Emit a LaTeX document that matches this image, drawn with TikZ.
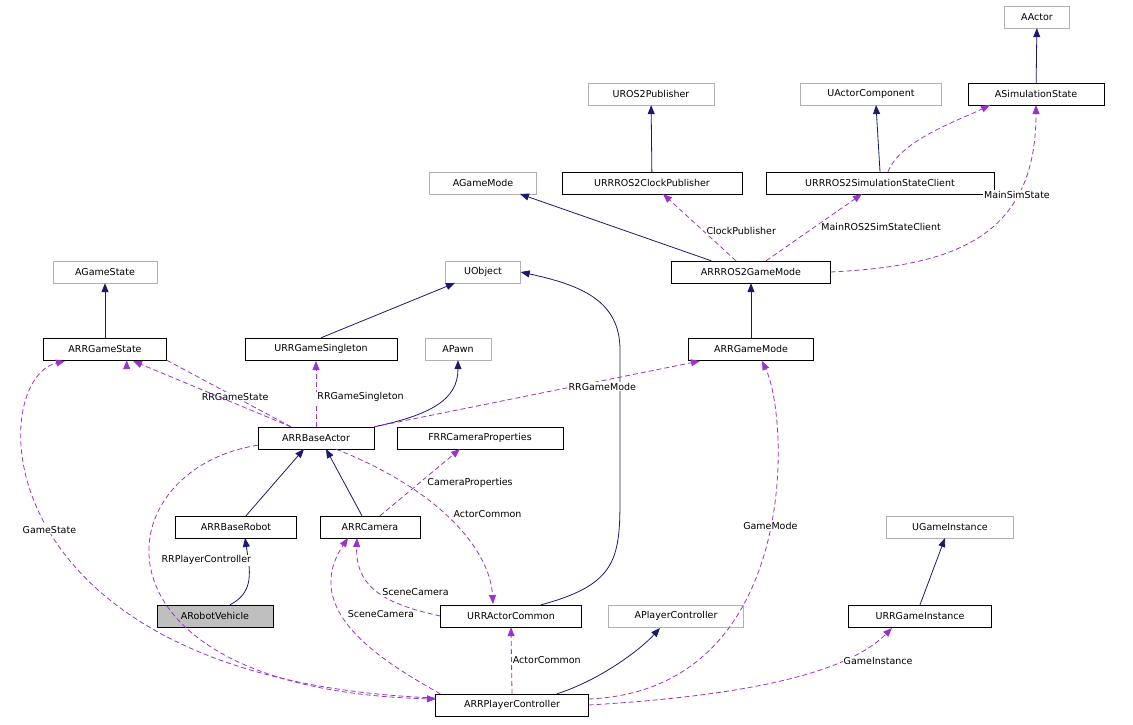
\documentclass[tikz,border=0pt]{standalone}
\usepackage{fontspec}
\setmainfont{DejaVu Sans}
\usetikzlibrary{arrows.meta}
\definecolor{inh}{HTML}{191970}
\definecolor{use}{HTML}{9A32CD}
\begin{document}
\begin{tikzpicture}[x=1pt,y=-1pt,font=\fontsize{9.5}{11}\selectfont,
  b/.style={draw=black,fill=white,minimum height=22pt,inner sep=2pt,anchor=center},
  g/.style={b,draw=gray!60},
  ih/.style={draw=inh,line width=0.8pt,-{Triangle[length=9pt,width=7pt]}},
  us/.style={draw=use,line width=0.8pt,dashed,dash pattern=on 5pt off 3pt,-{Triangle[length=9pt,width=7pt]}},
  lb/.style={fill=white,inner sep=1pt}]
\useasboundingbox (0,0) rectangle (1133,725);
\node[g,minimum width=65pt] (AActor) at (1037,17) {AActor};
\node[b,minimum width=136pt] (ASim) at (1036,94) {ASimulationState};
\node[g,minimum width=126pt] (UROS) at (651,94) {UROS2Publisher};
\node[g,minimum width=141pt] (UAC) at (871,94) {UActorComponent};
\node[b,minimum width=180pt] (Clock) at (652,183) {URRROS2ClockPublisher};
\node[b,minimum width=228pt] (SimCl) at (880,183) {URRROS2SimulationStateClient};
\node[g,minimum width=107pt] (AGM) at (483,183) {AGameMode};
\node[b,minimum width=159pt] (ROSGM) at (751,272) {ARRROS2GameMode};
\node[g,minimum width=104pt] (AGS) at (105,272) {AGameState};
\node[g,minimum width=75pt] (UObj) at (483,272) {UObject};
\node[b,minimum width=123pt] (GS) at (105,349) {ARRGameState};
\node[b,minimum width=152pt] (GSing) at (321,349) {URRGameSingleton};
\node[g,minimum width=66pt] (APawn) at (458,349) {APawn};
\node[b,minimum width=125pt] (GM) at (751,349) {ARRGameMode};
\node[b,minimum width=116pt] (BA) at (316,438) {ARRBaseActor};
\node[b,minimum width=166pt] (FCam) at (480,438) {FRRCameraProperties};
\node[b,minimum width=121pt] (BR) at (236,527) {ARRBaseRobot};
\node[b,minimum width=100pt] (Cam) at (370,527) {ARRCamera};
\node[g,minimum width=127pt] (UGI) at (950,527) {UGameInstance};
\node[b,minimum width=116pt,fill=gray!50] (RV) at (215,616) {ARobotVehicle};
\node[b,minimum width=141pt] (AC) at (511,616) {URRActorCommon};
\node[g,minimum width=135pt] (APC) at (676,616) {APlayerController};
\node[b,minimum width=143pt] (GI) at (920,616) {URRGameInstance};
\node[b,minimum width=153pt] (PC) at (512,705) {ARRPlayerController};
% inheritance
\draw[ih] (ASim) -- (AActor);
\draw[ih] (Clock) -- (UROS);
\draw[ih] (SimCl.north) -- (876,105);
\draw[ih] (ROSGM.north west) ++(40,0) -- (520,194);
\draw[ih] (GM) -- (ROSGM);
\draw[ih] (GS) -- (AGS);
\draw[ih] (GSing.north) ++(0,0) -- (455,283);
\draw[ih] (BA.north east) .. controls (430,415) and (458,400) .. (APawn.south);
\draw[ih] (BR.north) ++(10,0) -- (304,449);
\draw[ih] (Cam.north) ++(-8,0) -- (326,449);
\draw[ih] (RV.north) ++(15,0) .. controls (255,592) and (250,570) .. (245,538);
\draw[ih] (AC.north) ++(30,0) .. controls (615,585) and (620,560) .. (620,500) -- (620,350) .. controls (620,300) and (580,285) .. (UObj.east);
\draw[ih] (GI.north) ++(0,0) -- (945,538);
\draw[ih] (PC.north) ++(45,0) .. controls (600,680) and (640,650) .. (660,628);
% usage
\draw[us] (SimCl.north) ++(8,0) .. controls (900,140) and (960,120) .. (990,105);
\draw[us] (ROSGM.north) ++(-15,0) -- node[lb,pos=0.45,right=2pt]{ClockPublisher} (663,194);
\draw[us] (ROSGM.north) ++(15,0) -- node[lb,pos=0.5,right=6pt]{MainROS2SimStateClient} (862,194);
\draw[us] (ROSGM.east) .. controls (950,266) and (1036,240) .. node[lb,pos=0.72]{MainSimState} (1036,105);
\draw[us] (BA.north) ++(-25,0) -- node[lb,pos=0.45]{RRGameState} (GS.south east) ++(-40,0);
\draw[us] (BA.north) ++(-25,0) -- (133,361);
\draw[us] (BA.north) ++(0,0) -- node[lb,pos=0.45,right=0pt]{RRGameSingleton} (316,361);
\draw[us] (BA.north east) -- node[lb,pos=0.7,below=1pt]{RRGameMode} (700,361);
\draw[us] (Cam.north) ++(10,0) -- node[lb,pos=0.5,right=6pt]{CameraProperties} (460,449);
\draw[us] (BA.south) ++(20,0) .. controls (440,490) and (490,550) .. node[lb,pos=0.45,right=8pt]{ActorCommon} (493,604);
\draw[us] (AC.west) .. controls (390,605) and (355,590) .. node[lb,pos=0.5,right=2pt]{SceneCamera} (357,538);
\draw[us] (PC.north west) ++(5,0) .. controls (380,660) and (300,610) .. node[lb,pos=0.6,right=4pt]{SceneCamera} (348,538);
\draw[us] (PC.west) ++(0,-7) .. controls (-20,680) and (-15,380) .. node[lb,pos=0.5]{GameState} (65,361);
\draw[us] (BA.south west) ++(0,-4) .. controls (100,470) and (80,690) .. node[lb,pos=0.45,right=10pt]{RRPlayerController} (436,699);
\draw[us] (PC.east) ++(0,-6) .. controls (800,690) and (790,420) .. node[lb,pos=0.55]{GameMode} (762,361);
\draw[us] (PC.north) -- node[lb,pos=0.5,right=0pt]{ActorCommon} (AC.south);
\draw[us] (PC.east) .. controls (760,695) and (850,670) .. node[lb,pos=0.7,right=2pt]{GameInstance} (892,628);
\end{tikzpicture}
\end{document}
